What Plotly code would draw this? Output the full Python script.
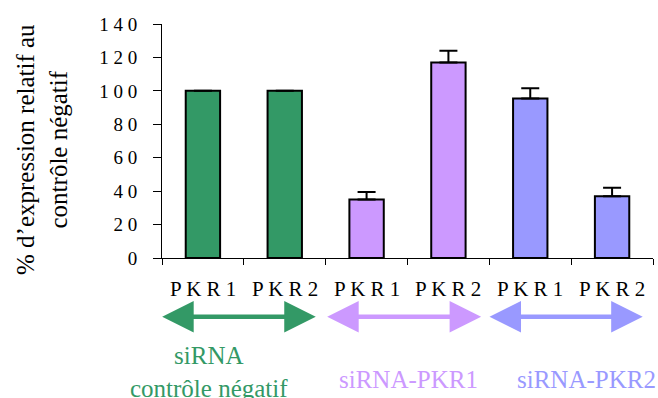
import plotly.graph_objects as go

categories = ["PKR1", "PKR2", "PKR1", "PKR2", "PKR1", "PKR2"]
values = [100, 100, 35, 117, 95.5, 37]
errors = [0, 0, 4.5, 7, 6, 5]
bar_colors = ["#339966", "#339966", "#CC99FF", "#CC99FF", "#9999FF", "#9999FF"]
group_labels = ["siRNA<br>contrôle négatif", "siRNA-PKR1", "siRNA-PKR2"]
group_colors = ["#339966", "#CC99FF", "#9999FF"]
y_ticks = [0, 20, 40, 60, 80, 100, 120, 140]

SERIF = "Liberation Serif, Times New Roman, serif"

def spaced(s):
    return " ".join(list(s))

xs = list(range(len(categories)))

fig = go.Figure()
fig.add_trace(go.Bar(
    x=xs, y=values, width=0.42,
    marker=dict(color=bar_colors, line=dict(color="black", width=2)),
    error_y=dict(type="data", array=errors, arrayminus=[0]*len(errors),
                 symmetric=False, color="black", thickness=2, width=9),
    showlegend=False,
))

W, H = 658, 398
ml, mr, mt, mb = 162, 5, 24, 140
PW, PH = W - ml - mr, H - mt - mb

def px2paper(px, py):
    return (px - ml) / PW, (H - mb - py) / PH

fig.update_layout(
    width=W, height=H,
    margin=dict(l=ml, r=mr, t=mt, b=mb),
    plot_bgcolor="white", paper_bgcolor="white",
    font=dict(family=SERIF, color="black", size=18),
    xaxis=dict(range=[-0.5, 5.5], tickvals=[i - 0.5 for i in range(7)],
               ticktext=[""] * 7, ticks="outside", ticklen=6, tickcolor="black",
               showline=True, linecolor="black", linewidth=1,
               showgrid=False, zeroline=False),
    yaxis=dict(range=[0, 140], tickvals=y_ticks,
               ticktext=[spaced(str(v)) for v in y_ticks],
               ticks="outside", ticklen=8, tickcolor="black",
               ticklabelstandoff=12,
               showline=True, linecolor="black", linewidth=1,
               showgrid=False, zeroline=False,
               tickfont=dict(family=SERIF, size=19)),
)

# category labels
for i, c in enumerate(categories):
    fig.add_annotation(x=i, y=px2paper(0, 289)[1], xref="x", yref="paper",
                       text=spaced(c), showarrow=False,
                       xanchor="center", yanchor="middle",
                       font=dict(family=SERIF, size=21, color="black"))

# group arrows
spans = [(-0.516, 1.379), (1.50, 3.40), (3.484, 5.374)]
arrow_y = px2paper(0, 316.7)[1]
for (a, b), col in zip(spans, group_colors):
    fig.add_annotation(x=b, y=arrow_y, ax=a, ay=0,
                       xref="x", yref="paper", axref="x", ayref="pixel",
                       text="", showarrow=True, arrowhead=2, startarrowhead=2,
                       arrowside="end+start", arrowsize=1.4, startarrowsize=1.4,
                       arrowwidth=4.5, arrowcolor=col)

# group labels
label_pos = [(209, 372), (408, 379), (586, 379)]
for (px, py), txt, col in zip(label_pos, group_labels, group_colors):
    xp, yp = px2paper(px, py)
    fig.add_annotation(x=xp, y=yp, xref="paper", yref="paper",
                       text=txt, showarrow=False,
                       xanchor="center", yanchor="middle",
                       font=dict(family=SERIF, size=25, color=col))

# y title
xp, yp = px2paper(42, 150)
fig.add_annotation(x=xp, y=yp, xref="paper", yref="paper",
                   text="% d’expression relatif au<br>contrôle négatif",
                   textangle=-90, showarrow=False,
                   xanchor="center", yanchor="middle",
                   font=dict(family=SERIF, size=25, color="black"))

fig.write_html("out.html", config={"displayModeBar": False},
               post_script="document.body.style.margin='0';")
